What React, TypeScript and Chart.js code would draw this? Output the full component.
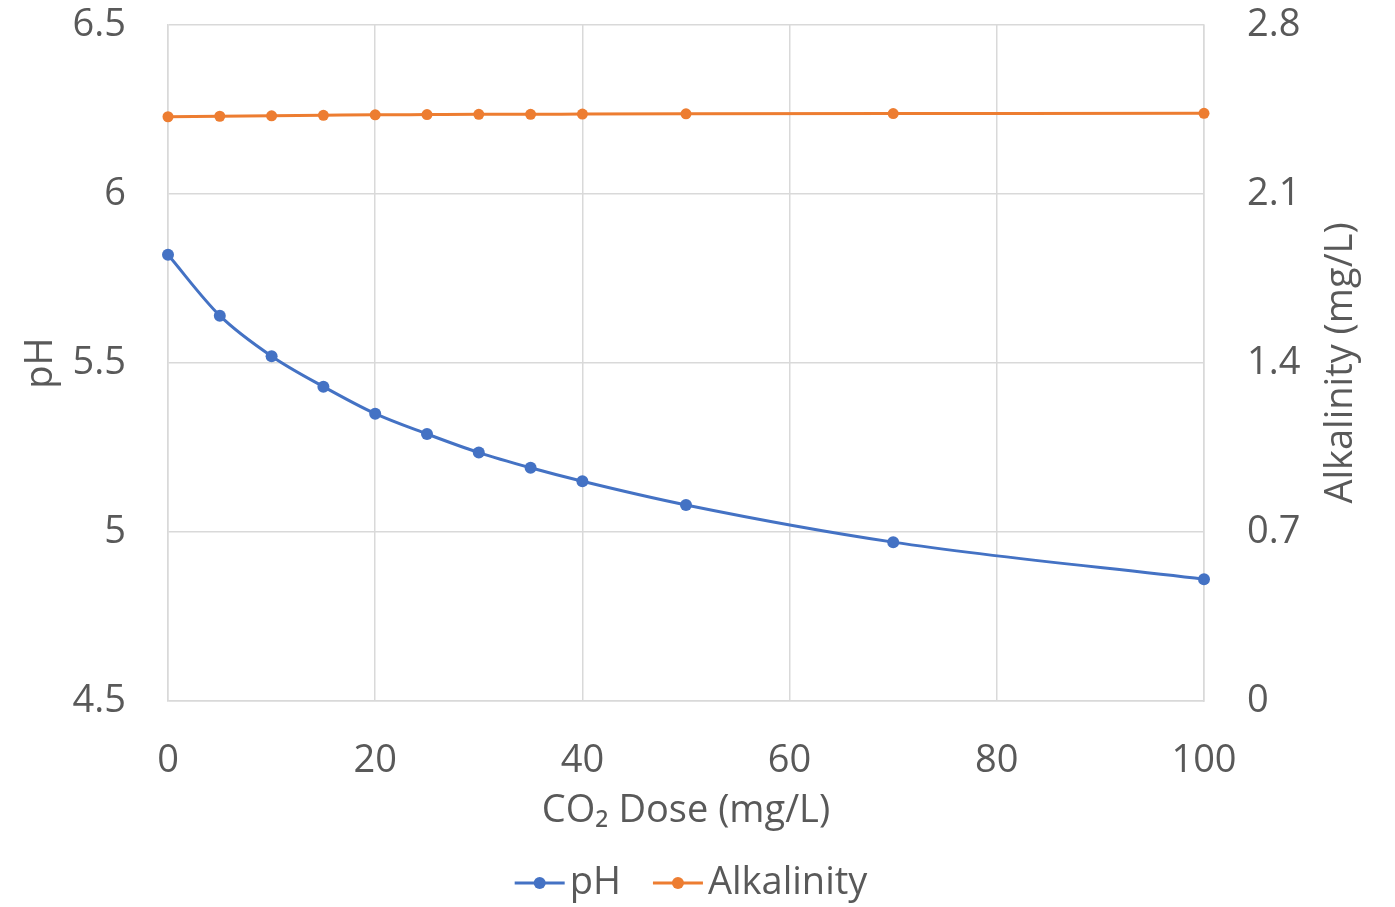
import React, { useEffect, useRef } from "react";
import { Chart, registerables } from "chart.js";

Chart.register(...registerables);

// ---- data ----
const doses = [0, 5, 10, 15, 20, 25, 30, 35, 40, 50, 70, 100];
const phValues = [5.82, 5.64, 5.52, 5.43, 5.35, 5.29, 5.235, 5.19, 5.15, 5.08, 4.97, 4.86];
const alkalinityValues = [2.42, 2.422, 2.424, 2.426, 2.428, 2.429, 2.43, 2.43, 2.431, 2.432, 2.433, 2.434];
const xTickValues = [0, 20, 40, 60, 80, 100];
const xTickLabels = ["0", "20", "40", "60", "80", "100"];
const phTickValues = [4.5, 5, 5.5, 6, 6.5];
const phTickLabels = ["4.5", "5", "5.5", "6", "6.5"];
const alkTickValues = [0, 0.7, 1.4, 2.1, 2.8];
const alkTickLabels = ["0", "0.7", "1.4", "2.1", "2.8"];
const xTitle = "CO₂ Dose (mg/L)";
const phTitle = "pH";
const alkTitle = "Alkalinity (mg/L)";
const seriesLabels = ["pH", "Alkalinity"];
const seriesColors = ["#4472C4", "#ED7D31"];

const FONT = "'Open Sans', sans-serif";
const FONT_SIZE = 38;
const TEXT = "#595959";
const GRID = "#d9d9d9";

const overlayPlugin = {
  id: "overlay",
  afterDraw(chart: any) {
    const ctx: CanvasRenderingContext2D = chart.ctx;
    const area = chart.chartArea;
    ctx.save();
    ctx.font = `${FONT_SIZE}px ${FONT}`;
    ctx.fillStyle = TEXT;
    // right axis title, reading bottom-to-top
    const r = chart.scales.y1;
    ctx.save();
    ctx.translate(r.right - 54, (area.top + area.bottom) / 2);
    ctx.rotate(-Math.PI / 2);
    ctx.textAlign = "center";
    ctx.textBaseline = "middle";
    ctx.fillText(alkTitle, 0, 0);
    ctx.restore();

    // legend
    const items = chart.data.datasets.map((ds: any) => ({ label: ds.label, color: ds.borderColor }));
    const markerW = 50;
    const gap = 5;
    const itemGap = 32;
    const widths = items.map((it: any) => markerW + gap + ctx.measureText(it.label).width);
    const total = widths.reduce((a: number, b: number) => a + b, 0) + itemGap * (items.length - 1);
    let x = (area.left + area.right) / 2 - total / 2 + 5;
    const y = chart.height - 24;
    items.forEach((it: any, i: number) => {
      ctx.strokeStyle = it.color;
      ctx.fillStyle = it.color;
      ctx.lineWidth = 3;
      ctx.beginPath();
      ctx.moveTo(x, y);
      ctx.lineTo(x + markerW, y);
      ctx.stroke();
      ctx.beginPath();
      ctx.arc(x + markerW / 2, y, 6, 0, Math.PI * 2);
      ctx.fill();
      ctx.fillStyle = TEXT;
      ctx.textAlign = "left";
      ctx.textBaseline = "middle";
      ctx.fillText(it.label, x + markerW + gap, y);
      x += widths[i] + itemGap;
    });
    ctx.restore();
  },
};

function setTicks(values: number[]) {
  return (s: any) => {
    s.ticks = values.map((v) => ({ value: v }));
  };
}

function labelFrom(values: number[], labels: string[]) {
  return (v: any) => {
    const i = values.findIndex((t) => Math.abs(t - Number(v)) < 1e-9);
    return i >= 0 ? labels[i] : "";
  };
}

export default function App() {
  const canvasRef = useRef<HTMLCanvasElement | null>(null);

  useEffect(() => {
    const canvas = canvasRef.current;
    if (!canvas) return;
    const font = { family: FONT, size: FONT_SIZE };
    const chart = new Chart(canvas, {
      type: "line",
      data: {
        datasets: [
          {
            label: seriesLabels[0],
            data: doses.map((d, i) => ({ x: d, y: phValues[i] })),
            borderColor: seriesColors[0],
            backgroundColor: seriesColors[0],
            borderWidth: 3,
            pointRadius: 6,
            pointBorderWidth: 0,
            pointBackgroundColor: seriesColors[0],
            cubicInterpolationMode: "monotone",
            yAxisID: "y",
            clip: false,
          },
          {
            label: seriesLabels[1],
            data: doses.map((d, i) => ({ x: d, y: alkalinityValues[i] })),
            borderColor: seriesColors[1],
            backgroundColor: seriesColors[1],
            borderWidth: 3,
            pointRadius: 5.5,
            pointBorderWidth: 0,
            pointBackgroundColor: seriesColors[1],
            cubicInterpolationMode: "monotone",
            yAxisID: "y1",
            clip: false,
          },
        ],
      },
      options: {
        animation: false,
        responsive: false,
        maintainAspectRatio: false,
        layout: { padding: { top: 25, bottom: 70, left: 0, right: 0 } },
        plugins: {
          legend: { display: false },
          tooltip: { enabled: false },
        },
        scales: {
          x: {
            type: "linear",
            min: 0,
            max: 100,
            afterBuildTicks: setTicks(xTickValues),
            afterFit: (s: any) => {
              s.height = 136;
              s.paddingLeft = 0;
              s.paddingRight = 0;
            },
            grid: { color: GRID, lineWidth: 1.5, drawTicks: false },
            border: { color: GRID, width: 1.5 },
            ticks: { font, color: TEXT, padding: 37, maxRotation: 0, callback: labelFrom(xTickValues, xTickLabels) },
            title: {
              display: true,
              text: xTitle,
              font,
              color: TEXT,
              padding: { top: 0, bottom: 3 },
            },
          },
          y: {
            type: "linear",
            position: "left",
            min: 4.5,
            max: 6.5,
            afterBuildTicks: setTicks(phTickValues),
            afterFit: (s: any) => {
              s.width = 168;
              s.paddingTop = 0;
              s.paddingBottom = 0;
            },
            grid: { color: GRID, lineWidth: 1.5, drawTicks: false },
            border: { color: GRID, width: 1.5 },
            ticks: { font, color: TEXT, padding: 42, callback: labelFrom(phTickValues, phTickLabels) },
            title: {
              display: true,
              text: phTitle,
              font,
              color: TEXT,
              padding: { top: 18, bottom: 0 },
            },
          },
          y1: {
            type: "linear",
            position: "right",
            min: 0,
            max: 2.8,
            afterBuildTicks: setTicks(alkTickValues),
            afterFit: (s: any) => {
              s.width = 191;
              s.paddingTop = 0;
              s.paddingBottom = 0;
            },
            grid: { drawOnChartArea: false, drawTicks: false },
            border: { color: GRID, width: 1.5 },
            ticks: { font, color: TEXT, padding: 43, callback: labelFrom(alkTickValues, alkTickLabels) },
          },
        },
      } as any,
      plugins: [overlayPlugin],
    });
    return () => chart.destroy();
  }, []);

  return (
    <div style={{ position: "absolute", left: 0, top: 0, width: 1395, height: 907, background: "#fff" }}>
      <canvas ref={canvasRef} width={1395} height={907} style={{ display: "block" }} />
    </div>
  );
}
